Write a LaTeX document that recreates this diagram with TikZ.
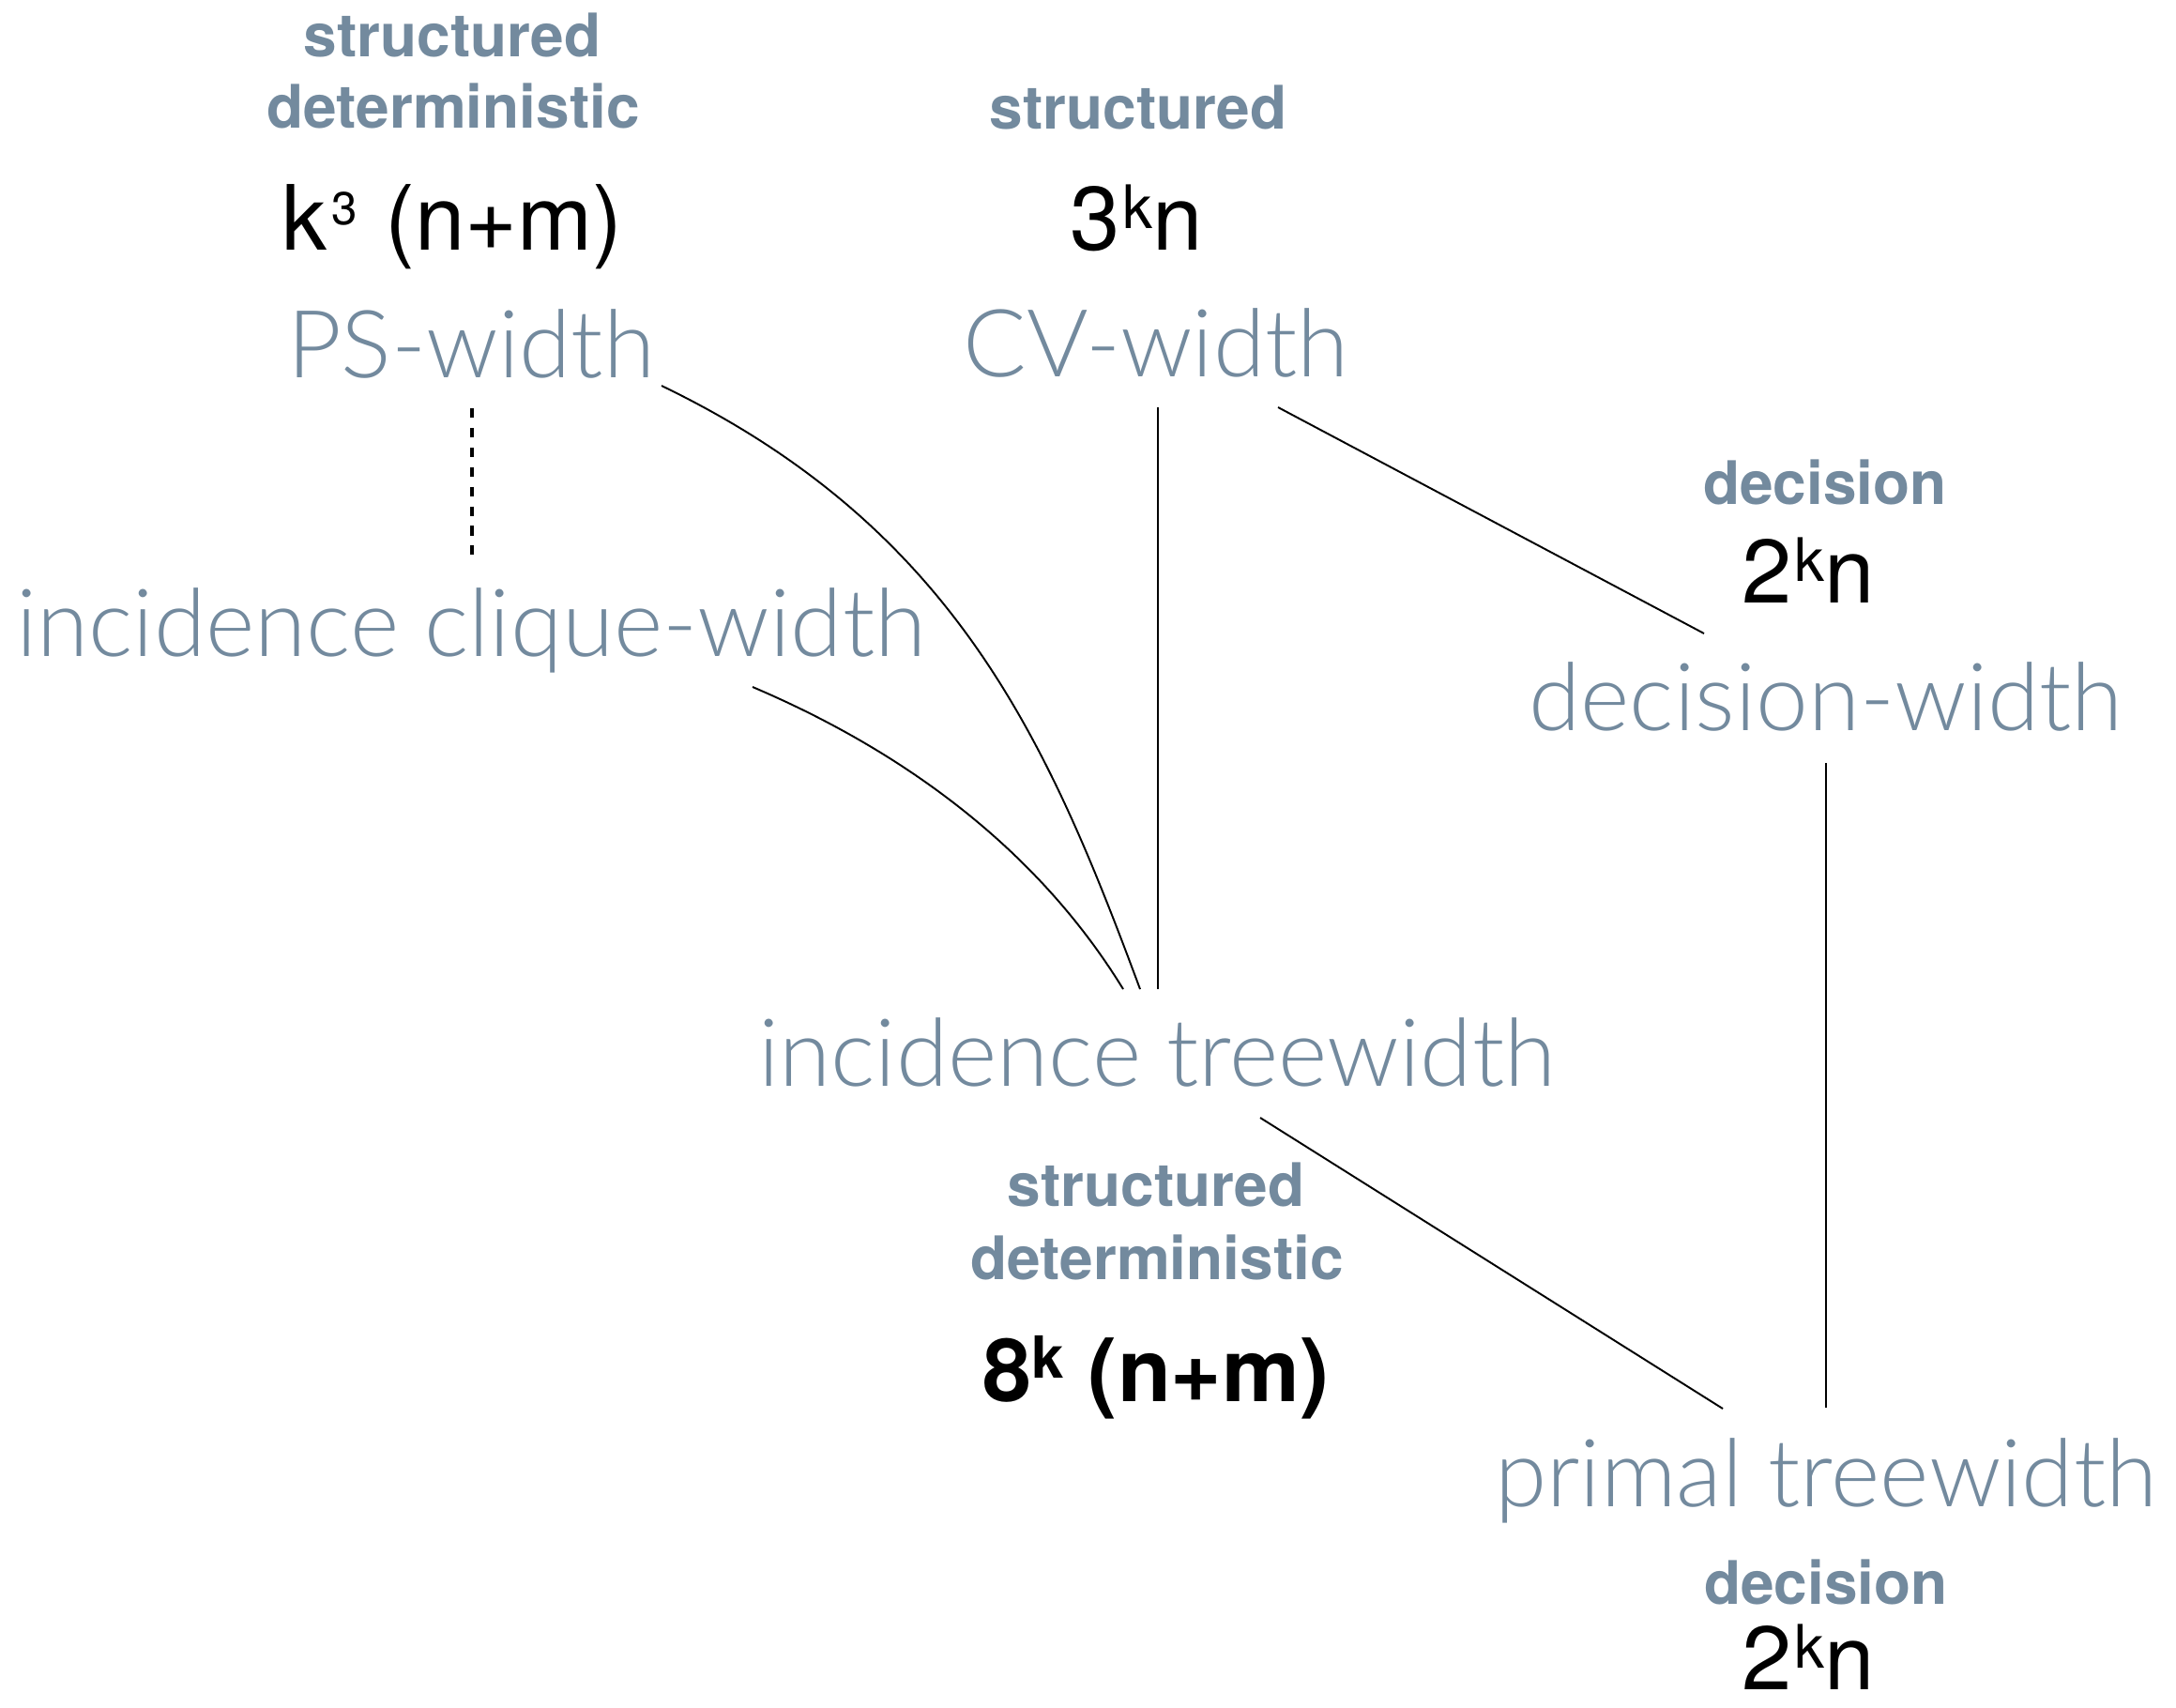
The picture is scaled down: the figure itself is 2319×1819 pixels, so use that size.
\documentclass[tikz,border=0pt]{standalone}
\usepackage{fontspec}
\setmainfont{TeX Gyre Heros}
\newfontfamily\thinfont{Lato}[UprightFont={* Light}]
\usetikzlibrary{calc}
\definecolor{slate}{RGB}{115,138,158}

% raised exponents used in the bounds
\newcommand{\hiK}{\hspace{0.3mm}\raisebox{2.3mm}{\fontsize{18.2pt}{20pt}\selectfont k}}
\newcommand{\hiThree}{\hspace{0.5mm}\raisebox{2.7mm}{\fontsize{14pt}{16pt}\selectfont 3}\hspace{0.3mm}}
\newcommand{\hiKbold}{\raisebox{2.5mm}{\bfseries\fontsize{17.6pt}{20pt}\selectfont k}}

\tikzset{
  measure/.style={anchor=base, inner sep=0pt, text=slate,
                  font=\thinfont\fontsize{28.5pt}{32pt}\selectfont},
  tag/.style={anchor=base, inner sep=0pt, text=slate,
              font=\bfseries\fontsize{18.2pt}{22pt}\selectfont},
  bound/.style={anchor=base, inner sep=0pt, text=black,
                font=\fontsize{27.3pt}{32pt}\selectfont},
  boldbound/.style={anchor=base, inner sep=0pt, text=black,
                    font=\bfseries\fontsize{26.5pt}{32pt}\selectfont},
  link/.style={draw=black, line width=0.55pt},
  weak/.style={draw=black, line width=1.3pt, dash pattern=on 2.85pt off 3.1pt},
}

\begin{document}
\begin{tikzpicture}[x=0.1mm, y=-0.1mm]
\useasboundingbox (0,0) rectangle (2319,1819);

% PS-width
\node[tag]   (psTagA)  at (482,60)  {structured};
\node[tag]   (psTagB)  at (483,136) {deterministic};
\node[bound] (psBound) at (482,266) {k\hiThree\ (n+m)};
\node[measure] (ps)    at (502,402) {PS-width};

% incidence clique-width
\node[measure] (icw)   at (502,699) {incidence clique-width};

% CV-width
\node[tag]   (cvTag)   at (1213,137) {structured};
\node[bound] (cvBound) at (1211,266) {3\hiK n};
\node[measure] (cv)    at (1232,401) {CV-width};

% decision-width
\node[tag]   (dwTag)   at (1945,537) {decision};
\node[bound] (dwBound) at (1927,642) {2\hiK n};
\node[measure] (dw)    at (1946,778) {decision-width};

% incidence treewidth
\node[measure] (itw)   at (1233,1157) {incidence treewidth};
\node[tag]   (itwTagA) at (1232,1285) {structured};
\node[tag]   (itwTagB) at (1233,1363) {deterministic};
\node[boldbound] (itwBound) at (1232,1493) {8\hiKbold\ (n+m)};

% primal treewidth
\node[measure] (ptw)   at (1946,1605) {primal treewidth};
\node[tag]   (ptwTag)  at (1946,1709) {decision};
\node[bound] (ptwBound) at (1927,1800) {2\hiK n};

% connections
\draw[weak] ($(ps.base)+(1,33)$) -- ($(icw.base)+(1,-103)$);
\draw[link] ($(ps.base)+(203,9)$)
      .. controls +(313,151) and +(-98,-264) .. ($(itw.base)+(-18,-103)$);
\draw[link] ($(icw.base)+(300,33)$)
      .. controls +(160,68) and +(-92,-150) .. ($(itw.base)+(-36,-103)$);
\draw[link] ($(cv.base)+(2,33)$) -- ($(itw.base)+(1,-103)$);
\draw[link] ($(cv.base)+(130,33)$) -- ($(dw.base)+(-130,-103)$);
\draw[link] ($(dw.base)+(0,35)$) -- ($(ptw.base)+(0,-105)$);
\draw[link] ($(itw.base)+(110,34)$) -- ($(ptw.base)+(-110,-104)$);
\end{tikzpicture}
\end{document}
